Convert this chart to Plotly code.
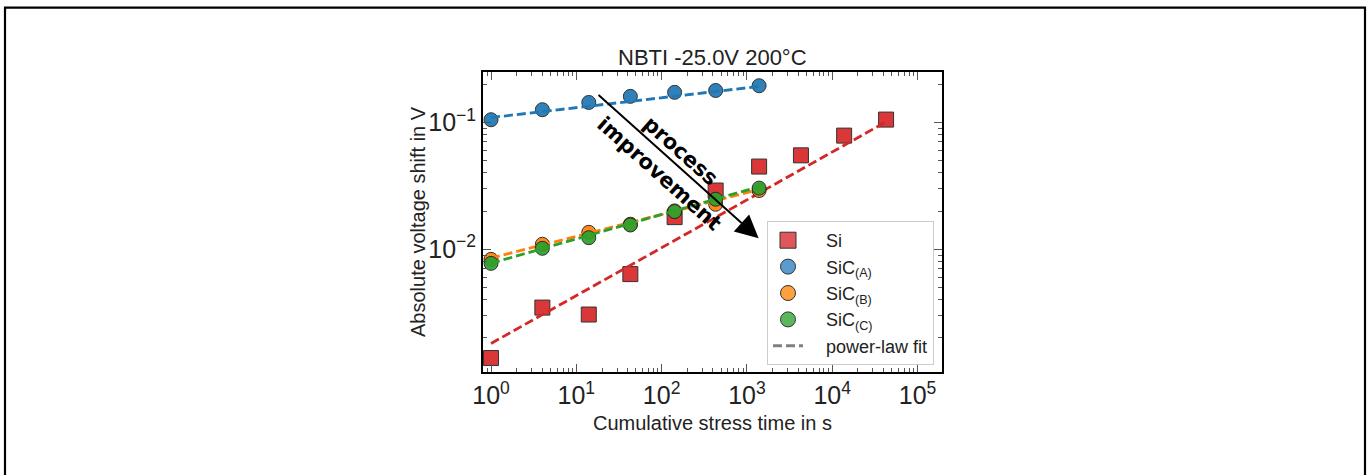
import numpy as np
import plotly.graph_objects as go

# Cumulative stress times (s) and absolute threshold-voltage shifts (V)
t_si = [1, 4, 14, 43, 142, 430, 1390, 4300, 13800, 42800]
v_si = [0.00139, 0.00347, 0.00306, 0.00637, 0.0179, 0.0290, 0.0448, 0.0549, 0.0785, 0.105]

t_sic = [1, 4, 14, 43, 142, 430, 1390]
v_sic_a = [0.1047, 0.1256, 0.1433, 0.160, 0.172, 0.178, 0.194]
v_sic_b = [0.00832, 0.01094, 0.01359, 0.01574, 0.02004, 0.0226, 0.0290]
v_sic_c = [0.00774, 0.01017, 0.01233, 0.01552, 0.01977, 0.02477, 0.0303]

# Power-law fit parameters dV = a * t^n
fit_a = [0.00181, 0.109, 0.00851, 0.00775]
fit_n = [0.377, 0.078, 0.172, 0.192]

names = ["Si", "SiC<sub>(A)</sub>", "SiC<sub>(B)</sub>", "SiC<sub>(C)</sub>"]
colors = ["#d62728", "#1f77b4", "#ff7f0e", "#2ca02c"]
legend_colors = ["#e0575a", "#5b9bd0", "#ffa040", "#5bb75b"]
symbols = ["square", "circle", "circle", "circle"]
sizes = [15, 14, 14, 14]

x_ticks = [1, 10, 100, 1000, 10000, 100000]
x_exponents = ["0", "1", "2", "3", "4", "5"]
y_ticks = [0.01, 0.1]
y_exponents = ["\u22122", "\u22121"]


def power_label(exp):
    return "10<sup>" + exp + "</sup>"


FONT = "Liberation Sans, Arial, sans-serif"
TICK_FONT = dict(family=FONT, size=25, color="#222222")
PAD = "\u2002\u2002"  # gap between legend symbol and label

fig = go.Figure()

series = [(t_si, v_si), (t_sic, v_sic_a), (t_sic, v_sic_b), (t_sic, v_sic_c)]
for i, (t, v) in enumerate(series):
    fig.add_trace(go.Scatter(
        x=t, y=v, mode="markers", showlegend=False,
        marker=dict(symbol=symbols[i], size=sizes[i], color=colors[i],
                    opacity=0.92, line=dict(color="#222222", width=1)),
    ))
    tt = np.logspace(np.log10(t[0]), np.log10(t[-1]), 50)
    fig.add_trace(go.Scatter(
        x=tt, y=fit_a[i] * tt ** fit_n[i], mode="lines", showlegend=False,
        line=dict(color=colors[i], width=2.8, dash="9px,4px"),
    ))

# legend entries
for i in range(4):
    fig.add_trace(go.Scatter(
        x=[None], y=[None], mode="markers", name=PAD + names[i],
        marker=dict(symbol=symbols[i], size=sizes[i] + 1, color=legend_colors[i],
                    line=dict(color="#333333", width=1)),
    ))
fig.add_trace(go.Scatter(
    x=[None], y=[None], mode="lines", name=PAD + "power-law fit",
    line=dict(color="#808080", width=3, dash="9px,4px"),
))

minor_x = [m * 10 ** d for d in range(-1, 6) for m in range(2, 10)]
minor_y = [m * 10 ** d for d in range(-4, 0) for m in range(2, 10)]

fig.update_layout(
    xaxis=dict(
        type="log", showgrid=False, zeroline=False,
        showline=True, linecolor="black", linewidth=2, mirror="allticks",
        ticks="inside", ticklen=8, tickwidth=1, tickcolor="#555555",
        range=[-0.094, 5.287],
        tickmode="array", tickvals=x_ticks,
        ticktext=[power_label(e) for e in x_exponents],
        tickfont=TICK_FONT,
        minor=dict(tickvals=minor_x, ticks="inside", ticklen=4, tickcolor="#555555"),
    ),
    yaxis=dict(
        type="log", showgrid=False, zeroline=False,
        showline=True, linecolor="black", linewidth=2, mirror="allticks",
        ticks="inside", ticklen=8, tickwidth=1, tickcolor="#555555",
        range=[-2.967, -0.604],
        tickmode="array", tickvals=y_ticks,
        ticktext=[power_label(e) for e in y_exponents],
        tickfont=TICK_FONT,
        minor=dict(tickvals=minor_y, ticks="inside", ticklen=4, tickcolor="#555555"),
    ),
)

annotations = [
    dict(text="NBTI -25.0V 200°C", xref="paper", yref="paper", x=0.5, y=1.0467,
         xanchor="center", yanchor="middle", showarrow=False,
         font=dict(family=FONT, size=22, color="#222222")),
    dict(text="Cumulative stress time in s", xref="paper", yref="paper",
         x=0.5, y=-0.17, xanchor="center", yanchor="middle", showarrow=False,
         font=dict(family=FONT, size=20, color="#222222")),
    dict(text="Absolute voltage shift in V", xref="paper", yref="paper",
         x=-0.1416, y=0.5, xanchor="center", yanchor="middle", showarrow=False,
         textangle=-90, font=dict(family=FONT, size=20, color="#222222")),
    # process improvement arrow
    dict(x=3.137, y=-1.914, ax=1.243, ay=-0.775, xref="x", yref="y",
         axref="x", ayref="y", text="", showarrow=True, arrowhead=2,
         arrowsize=2.3, arrowwidth=2, arrowcolor="black", standoff=0),
    dict(text="<b>process</b>", x=2.225, y=-1.225, xref="x", yref="y",
         showarrow=False, textangle=41.8,
         font=dict(family="DejaVu Sans", size=21, color="black")),
    dict(text="<b>improvement</b>", x=1.975, y=-1.41, xref="x", yref="y",
         showarrow=False, textangle=41.8,
         font=dict(family="DejaVu Sans", size=21, color="black")),
]

# outer frame around the figure
shapes = [
    dict(type="rect", xref="paper", yref="paper",
         x0=(5 - 483) / 459, x1=(1365 - 483) / 459,
         y0=(372 - 490) / 300, y1=(372 - 7.7) / 300,
         line=dict(color="black", width=2.2), fillcolor="rgba(0,0,0,0)", layer="below"),
]

fig.update_layout(
    width=1371, height=475,
    margin=dict(l=483, r=429, t=72, b=103),
    paper_bgcolor="white", plot_bgcolor="white",
    font=dict(family=FONT, color="#222222"),
    annotations=annotations, shapes=shapes,
    legend=dict(
        x=(767 - 483) / 459, y=(372 - 221) / 300, xanchor="left", yanchor="top",
        bgcolor="rgba(255,255,255,0.85)", bordercolor="#cccccc", borderwidth=1,
        font=dict(family=FONT, size=18, color="#222222"),
        itemwidth=30,
    ),
)

fig.write_html("out.html")
